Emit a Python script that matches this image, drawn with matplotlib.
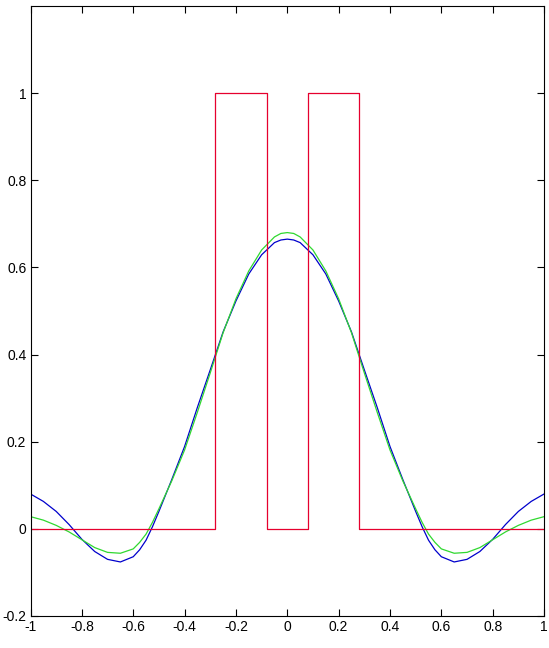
import numpy as np
import matplotlib.pyplot as plt

# sample points
x = [-1.00, -0.95, -0.90, -0.85, -0.80, -0.75, -0.70, -0.65, -0.60, -0.575, -0.55, -0.525, -0.50,
     -0.45, -0.40, -0.35, -0.30, -0.25, -0.20, -0.15, -0.10, -0.05, -0.025, 0.00,
     0.025, 0.05, 0.10, 0.15, 0.20, 0.25, 0.30, 0.35, 0.40, 0.45, 0.50, 0.525,
     0.55, 0.575, 0.60, 0.65, 0.70, 0.75, 0.80, 0.85, 0.90, 0.95, 1.00]

blue = [0.080, 0.063, 0.040, 0.010, -0.024, -0.052, -0.070, -0.076, -0.064, -0.048, -0.026, 0.005, 0.040,
        0.113, 0.189, 0.279, 0.365, 0.452, 0.523, 0.585, 0.629, 0.657, 0.663, 0.665,
        0.663, 0.657, 0.629, 0.585, 0.523, 0.452, 0.365, 0.279, 0.189, 0.113, 0.040, 0.005,
        -0.026, -0.048, -0.064, -0.076, -0.070, -0.052, -0.024, 0.010, 0.040, 0.063, 0.080]

green = [0.028, 0.020, 0.008, -0.007, -0.025, -0.043, -0.054, -0.056, -0.046, -0.031, -0.012, 0.015, 0.046,
         0.110, 0.181, 0.268, 0.358, 0.450, 0.528, 0.592, 0.640, 0.670, 0.678, 0.680,
         0.678, 0.670, 0.640, 0.592, 0.528, 0.450, 0.358, 0.268, 0.181, 0.110, 0.046, 0.015,
         -0.012, -0.031, -0.046, -0.056, -0.054, -0.043, -0.025, -0.007, 0.008, 0.020, 0.028]

# rectangular pulses
x_red = [-1.0, -0.28, -0.28, -0.08, -0.08, 0.08, 0.08, 0.28, 0.28, 1.0]
y_red = [0, 0, 1, 1, 0, 0, 1, 1, 0, 0]

xticks = [-1, -0.8, -0.6, -0.4, -0.2, 0, 0.2, 0.4, 0.6, 0.8, 1]
xlabels = ["-1", "-0.8", "-0.6", "-0.4", "-0.2", "0", "0.2", "0.4", "0.6", "0.8", "1"]
yticks = [-0.2, 0, 0.2, 0.4, 0.6, 0.8, 1]
ylabels = ["-0.2", "0", "0.2", "0.4", "0.6", "0.8", "1"]

plt.rcParams['font.family'] = ['Liberation Sans', 'DejaVu Sans']

fig = plt.figure(figsize=(5.49, 6.48), dpi=100)
ax = fig.add_axes([0.0556, 0.0494, 0.9354, 0.9413])

ax.plot(x, blue, color='#0000cc', linewidth=0.9)
ax.plot(x, green, color='#30d830', linewidth=0.9)
ax.plot(x_red, y_red, color='#e6002e', linewidth=0.9)

ax.set_xlim(-1, 1)
ax.set_ylim(-0.2, 1.2)
ax.set_xticks(xticks)
ax.set_xticklabels(xlabels)
ax.set_yticks(yticks)
ax.set_yticklabels(ylabels)
ax.tick_params(direction='in', length=5, width=0.8, top=True, right=True,
               labelsize=10, pad=3)
for s in ax.spines.values():
    s.set_linewidth(0.8)

fig.savefig("out.png", dpi=100)
